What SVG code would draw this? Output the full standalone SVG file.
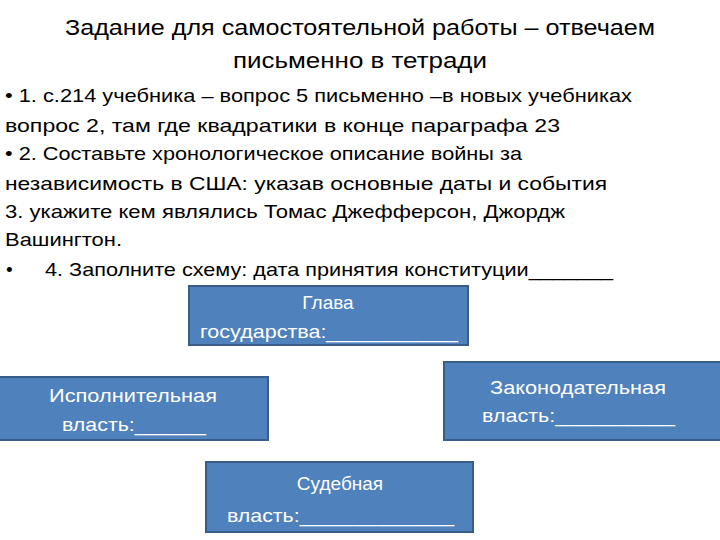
<svg xmlns="http://www.w3.org/2000/svg" width="720" height="540" viewBox="0 0 720 540">
<style>
text{font-family:"Liberation Sans","DejaVu Sans",sans-serif;fill:#000}
.t{font-size:22px}
.b{font-size:19px}
.n rect{fill:#4F81BD;stroke:#385D8A;stroke-width:2}
.n text{fill:#fff;font-size:19px}
</style>
<rect width="720" height="540" fill="#fff"/>
<text class="t" x="360" y="35" text-anchor="middle" textLength="590" lengthAdjust="spacingAndGlyphs">Задание для самостоятельной работы – отвечаем</text>
<text class="t" x="360" y="68" text-anchor="middle" textLength="254" lengthAdjust="spacingAndGlyphs">письменно в тетради</text>
<text class="b" x="5" y="102" textLength="627" lengthAdjust="spacingAndGlyphs">• 1. с.214 учебника – вопрос 5 письменно –в новых учебниках</text>
<text class="b" x="5" y="132" textLength="555" lengthAdjust="spacingAndGlyphs">вопрос 2, там где квадратики в конце параграфа 23</text>
<text class="b" x="5" y="160" textLength="517" lengthAdjust="spacingAndGlyphs">• 2. Составьте хронологическое описание войны за</text>
<text class="b" x="5" y="190" textLength="602" lengthAdjust="spacingAndGlyphs">независимость в США: указав основные даты и события</text>
<text class="b" x="5" y="218" textLength="560" lengthAdjust="spacingAndGlyphs">3. укажите кем являлись Томас Джефферсон, Джордж</text>
<text class="b" x="5" y="246" textLength="117" lengthAdjust="spacingAndGlyphs">Вашингтон.</text>
<text class="b" x="6" y="276">•</text>
<text class="b" x="45" y="276" textLength="568" lengthAdjust="spacingAndGlyphs">4. Заполните схему: дата принятия конституции_______</text>
<g id="head" class="n"><rect x="189" y="286" width="279" height="59"/>
<text x="328" y="309" text-anchor="middle">Глава</text>
<text x="200" y="338" textLength="258" lengthAdjust="spacingAndGlyphs">государства:___________</text></g>
<g id="exec" class="n"><rect x="-2" y="377" width="270" height="63"/>
<text x="133" y="402" text-anchor="middle" textLength="168" lengthAdjust="spacingAndGlyphs">Исполнительная</text>
<text x="62" y="431" textLength="144" lengthAdjust="spacingAndGlyphs">власть:______</text></g>
<g id="leg" class="n"><rect x="444" y="362" width="277" height="78"/>
<text x="578" y="394" text-anchor="middle" textLength="176" lengthAdjust="spacingAndGlyphs">Законодательная</text>
<text x="482" y="422" textLength="193" lengthAdjust="spacingAndGlyphs">власть:__________</text></g>
<g id="jud" class="n"><rect x="206" y="462" width="267" height="70"/>
<text x="340" y="490" text-anchor="middle">Судебная</text>
<text x="227" y="522" textLength="227" lengthAdjust="spacingAndGlyphs">власть:_____________</text></g>
<g id="connectors"/>
</svg>
